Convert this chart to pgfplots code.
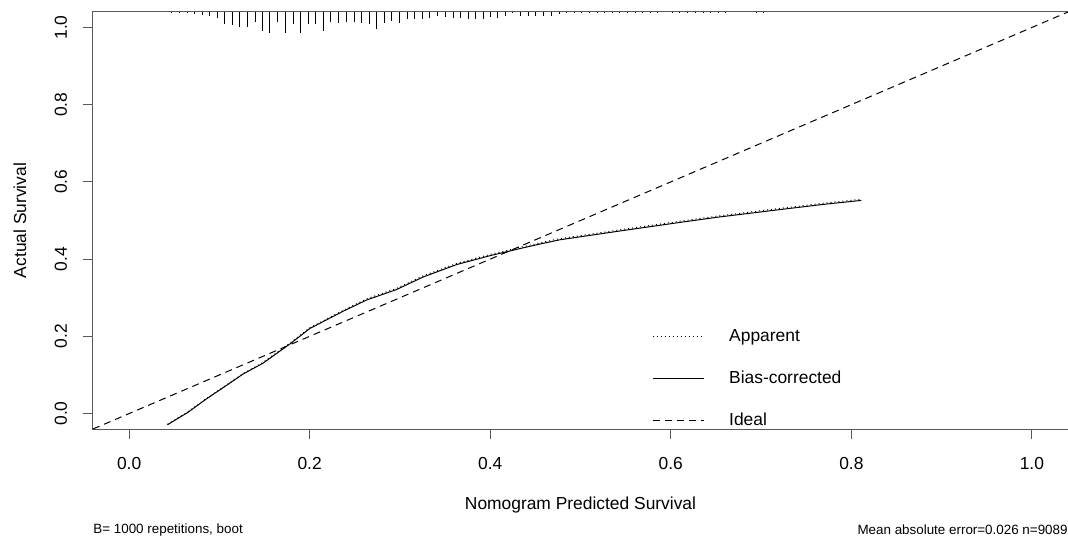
\documentclass[border=0pt]{standalone}
\usepackage{fontspec}
\setmainfont{Liberation Sans}
\usepackage{pgfplots}
\pgfplotsset{compat=1.18}
\usepackage{pgfplotstable}

% rug of predicted values along the top edge: x, downward length
\pgfplotstableread{
x v
0.0470 -0.003
0.0554 -0.003
0.0642 -0.003
0.0728 -0.005
0.0813 -0.008
0.0894 -0.010
0.0975 -0.015
0.1060 -0.031
0.1145 -0.034
0.1226 -0.039
0.1315 -0.039
0.1400 -0.026
0.1473 -0.049
0.1558 -0.054
0.1647 -0.026
0.1735 -0.054
0.1816 -0.031
0.1898 -0.054
0.1987 -0.031
0.2068 -0.031
0.2148 -0.049
0.2230 -0.026
0.2319 -0.028
0.2408 -0.026
0.2492 -0.026
0.2577 -0.028
0.2658 -0.031
0.2740 -0.044
0.2824 -0.028
0.2909 -0.023
0.2998 -0.028
0.3083 -0.018
0.3164 -0.018
0.3249 -0.018
0.3330 -0.015
0.3415 -0.010
0.3504 -0.013
0.3588 -0.015
0.3673 -0.015
0.3754 -0.018
0.3839 -0.018
0.3920 -0.018
0.4002 -0.013
0.4086 -0.015
0.4172 -0.010
0.4252 -0.003
0.4334 -0.010
0.4423 -0.010
0.4504 -0.010
0.4592 -0.010
0.4678 -0.010
0.4762 -0.005
0.4850 -0.003
0.4928 -0.003
0.5013 -0.003
0.5102 -0.003
0.5183 -0.003
0.5268 -0.003
0.5353 -0.003
0.5434 -0.003
0.5519 -0.003
0.5604 -0.003
0.5692 -0.003
0.5774 -0.003
0.5858 -0.003
0.6018 -0.003
0.6099 -0.003
0.6190 -0.003
0.6276 -0.003
0.6357 -0.003
0.6442 -0.003
0.6527 -0.003
0.6608 -0.003
0.6948 -0.003
0.7029 -0.003
}\rug

\pgfplotstableread{
x y
0.0425 -0.029
0.0650 0.003
0.0857 0.038
0.1060 0.070
0.1260 0.102
0.1480 0.130
0.1780 0.180
0.2000 0.220
0.2370 0.265
0.2630 0.294
0.2960 0.321
0.3260 0.354
0.3630 0.386
0.4000 0.409
0.4360 0.429
0.4550 0.439
0.4770 0.450
0.5500 0.475
0.6100 0.495
0.6500 0.508
0.7200 0.528
0.7700 0.542
0.8110 0.552
}\biascorr

\pgfplotstableread{
x y
0.0425 -0.028
0.0650 0.004
0.0857 0.039
0.1060 0.071
0.1260 0.103
0.1480 0.132
0.1780 0.182
0.2000 0.222
0.2370 0.267
0.2630 0.297
0.2960 0.324
0.3260 0.357
0.3630 0.389
0.4000 0.412
0.4360 0.432
0.4550 0.442
0.4770 0.453
0.5500 0.478
0.6100 0.498
0.6500 0.511
0.7200 0.531
0.7700 0.545
0.8110 0.555
}\apparent

\begin{document}
\begin{tikzpicture}
\begin{axis}[
    at={(0,0)}, anchor=south west,
    scale only axis,
    width=487.5pt, height=208.5pt,
    xmin=-0.04, xmax=1.04, ymin=-0.04, ymax=1.04,
    clip=false,
    axis line style={black!65, line width=0.5pt},
    tick style={black!65, line width=0.5pt},
    major tick length=5pt,
    tick align=outside,
    xtick pos=bottom, ytick pos=left,
    xtick={0,0.2,0.4,0.6,0.8,1.0},
    ytick={0,0.2,0.4,0.6,0.8,1.0},
    /pgf/number format/assume math mode=true,
    /pgf/number format/.cd, fixed, fixed zerofill, precision=1, /pgfplots/.cd,
    tick label style={font=\fontsize{8.7}{10}\selectfont},
    xticklabel shift=5.5pt,
    yticklabel style={rotate=90, anchor=south},
    yticklabel shift=4.5pt,
    label style={font=\fontsize{8.7}{10}\selectfont},
    xlabel={Nomogram Predicted Survival},
    ylabel={Actual Survival},
    xlabel style={at={(axis description cs:0.5,-0.1823)}, anchor=center},
    ylabel style={at={(axis description cs:-0.0749,0.5)}, anchor=center},
    legend style={draw=none, fill=none, inner sep=0pt,
        at={(axis cs:0.579,0.0907)}, anchor=west,
        font=\fontsize{8.7}{10}\selectfont,
        nodes={inner sep=0pt, text height=6.3pt, text depth=1.8pt},
        row sep=12.9pt, column sep=12.5pt},
    legend cell align=left,
    legend image code/.code={\draw[#1] (0pt,0pt) -- (25.5pt,0pt);},
]
\addplot[black, line width=0.5pt, quiver={u=0, v=\thisrow{v}}, forget plot]
    table[x=x, y expr=1.04] {\rug};
\addplot[black, line width=0.5pt, dash pattern=on 0.5pt off 1.5pt] table {\apparent};
\addlegendentry{Apparent}
\addplot[black, line width=0.5pt] table {\biascorr};
\addlegendentry{Bias-corrected}
\addplot[black, line width=0.5pt, dash pattern=on 3.5pt off 2.5pt]
    coordinates {(-0.04,-0.04) (1.04,1.04)};
\addlegendentry{Ideal}
\node[anchor=west, inner sep=0pt, font=\fontsize{6.7}{8}\selectfont]
    at (axis description cs:0,-0.242) {B= 1000 repetitions, boot};
\node[anchor=east, inner sep=0pt, font=\fontsize{6.7}{8}\selectfont]
    at (axis description cs:1.0,-0.242) {Mean absolute error=0.026 n=9089};
\end{axis}
\pgfresetboundingbox
\path (-46.5pt,-53pt) rectangle (487.5pt,214.5pt);
\end{tikzpicture}
\end{document}
